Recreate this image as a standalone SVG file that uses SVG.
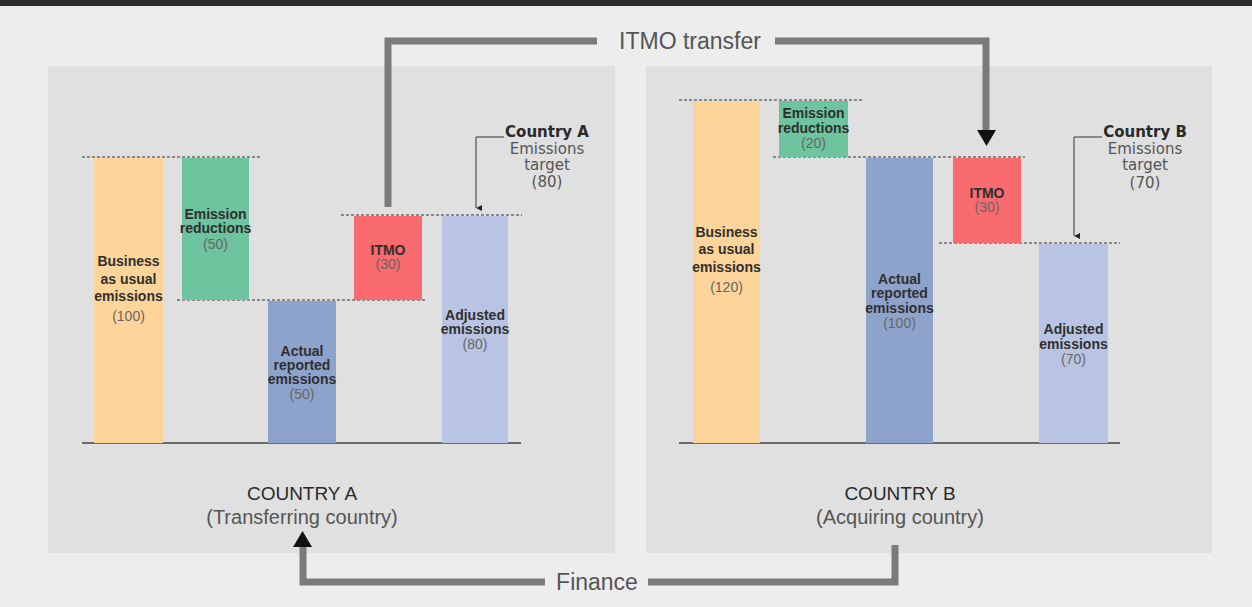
<svg xmlns="http://www.w3.org/2000/svg" width="1252" height="607" viewBox="0 0 1252 607">
<style>
text{font-family:"Liberation Sans",Arial,sans-serif;text-anchor:middle}
.lb{font-size:14px;font-weight:bold;fill:#2f2f2f}
.nm{font-size:14px;fill:#666}
.tb{font-family:"DejaVu Sans",sans-serif;font-size:15px;font-weight:bold;fill:#2a2a2a}
.tr{font-family:"DejaVu Sans",sans-serif;font-size:15px;fill:#555}
.ct{font-size:19px;fill:#2a2a2a}
.cs{font-size:20px;fill:#555}
.flow{font-size:23px;fill:#555}
.dash{stroke:#333;stroke-width:1.2;stroke-dasharray:3 2;fill:none}
.base{stroke:#444;stroke-width:1.5;fill:none}
.conn{stroke:#7b7b7b;stroke-width:7;fill:none}
.thin{stroke:#333;stroke-width:1;fill:none}
.bau{fill:#fdd49a}.er{fill:#6dc49e}.act{fill:#8ea3cc}.itmo{fill:#f96b6e}.adj{fill:#b9c4e4}
</style>
<defs>
<marker id="sm" viewBox="0 0 6 6" refX="3" refY="6" markerWidth="6" markerHeight="6" orient="auto-start-reverse" markerUnits="userSpaceOnUse">
<path d="M0,0 L6,0 L3,6 Z" fill="#222"/>
</marker>
</defs>
<rect x="0" y="0" width="1252" height="607" fill="#ededed"/>
<rect x="0" y="0" width="1252" height="6" fill="#2c2c2c"/>
<rect id="panelA" x="48" y="66" width="567" height="487" fill="#e0e0e0"/>
<rect id="panelB" x="646" y="66" width="566" height="487" fill="#e0e0e0"/>

<g id="chartA-lines">
<line class="dash" x1="82" y1="157" x2="262" y2="157"/>
<line class="dash" x1="177" y1="300" x2="427" y2="300"/>
<line class="dash" x1="341" y1="215" x2="522" y2="215"/>
<line class="base" x1="82" y1="443" x2="521" y2="443"/>
</g>
<g id="a-bau">
<rect class="bau" x="94" y="158" width="69" height="285"/>
<text class="lb" x="128.5" y="266">Business</text>
<text class="lb" x="128.5" y="284">as usual</text>
<text class="lb" x="128.5" y="301">emissions</text>
<text class="nm" x="128.5" y="321">(100)</text>
</g>
<g id="a-er">
<rect class="er" x="182" y="158" width="67" height="142"/>
<text class="lb" x="215.5" y="219">Emission</text>
<text class="lb" x="215.5" y="233">reductions</text>
<text class="nm" x="215.5" y="249">(50)</text>
</g>
<g id="a-act">
<rect class="act" x="268" y="301" width="68" height="142"/>
<text class="lb" x="302" y="356">Actual</text>
<text class="lb" x="302" y="370">reported</text>
<text class="lb" x="302" y="384">emissions</text>
<text class="nm" x="302" y="399">(50)</text>
</g>
<g id="a-itmo">
<rect class="itmo" x="354" y="216" width="68" height="84"/>
<text class="lb" x="388" y="255">ITMO</text>
<text class="nm" x="388" y="269">(30)</text>
</g>
<g id="a-adj">
<rect class="adj" x="442" y="216" width="66" height="227"/>
<text class="lb" x="475" y="320">Adjusted</text>
<text class="lb" x="475" y="334">emissions</text>
<text class="nm" x="475" y="349">(80)</text>
</g>
<g id="a-target">
<text class="tb" x="547" y="137">Country A</text>
<text class="tr" x="547" y="153.5">Emissions</text>
<text class="tr" x="547" y="170">target</text>
<text class="tr" x="547" y="186.5">(80)</text>
</g>
<g id="a-label">
<text class="ct" x="302" y="500">COUNTRY A</text>
<text class="cs" x="302" y="524">(Transferring country)</text>
</g>

<g id="chartB-lines">
<line class="dash" x1="679" y1="100" x2="862" y2="100"/>
<line class="dash" x1="773" y1="157" x2="1025" y2="157"/>
<line class="dash" x1="939" y1="243" x2="1120" y2="243"/>
<line class="base" x1="679" y1="443" x2="1120" y2="443"/>
</g>
<g id="b-bau">
<rect class="bau" x="693" y="101" width="67" height="342"/>
<text class="lb" x="726.5" y="237">Business</text>
<text class="lb" x="726.5" y="254">as usual</text>
<text class="lb" x="726.5" y="272">emissions</text>
<text class="nm" x="726.5" y="292">(120)</text>
</g>
<g id="b-er">
<rect class="er" x="779" y="101" width="69" height="56"/>
<text class="lb" x="813.5" y="118">Emission</text>
<text class="lb" x="813.5" y="133">reductions</text>
<text class="nm" x="813.5" y="148">(20)</text>
</g>
<g id="b-act">
<rect class="act" x="866" y="158" width="67" height="285"/>
<text class="lb" x="899.5" y="284">Actual</text>
<text class="lb" x="899.5" y="298">reported</text>
<text class="lb" x="899.5" y="313">emissions</text>
<text class="nm" x="899.5" y="328">(100)</text>
</g>
<g id="b-itmo">
<rect class="itmo" x="953" y="158" width="68" height="85"/>
<text class="lb" x="987" y="198">ITMO</text>
<text class="nm" x="987" y="212">(30)</text>
</g>
<g id="b-adj">
<rect class="adj" x="1039" y="244" width="69" height="199"/>
<text class="lb" x="1073.5" y="334">Adjusted</text>
<text class="lb" x="1073.5" y="349">emissions</text>
<text class="nm" x="1073.5" y="364">(70)</text>
</g>
<g id="b-target">
<text class="tb" x="1145" y="137">Country B</text>
<text class="tr" x="1145" y="153.5">Emissions</text>
<text class="tr" x="1145" y="170">target</text>
<text class="tr" x="1145" y="188">(70)</text>
</g>
<g id="b-label">
<text class="ct" x="900" y="500">COUNTRY B</text>
<text class="cs" x="900" y="524">(Acquiring country)</text>
</g>

<g id="connectors">
<path class="thin" d="M504,137 H476 V208" marker-end="url(#sm)"/>
<path class="thin" d="M1102,137 H1074 V236" marker-end="url(#sm)"/>
<path class="conn" d="M388,207 V41 H597"/>
<path class="conn" d="M775,41 H986 V131"/>
<polygon points="977,130 996,130 986.5,146" fill="#111"/>
<path class="conn" d="M895,545 V582 H648"/>
<path class="conn" d="M545,582 H303 V547"/>
<polygon points="293,547 312,547 302.5,531" fill="#111"/>
<text class="flow" x="690" y="49">ITMO transfer</text>
<text class="flow" x="597" y="590">Finance</text>
</g>
</svg>
